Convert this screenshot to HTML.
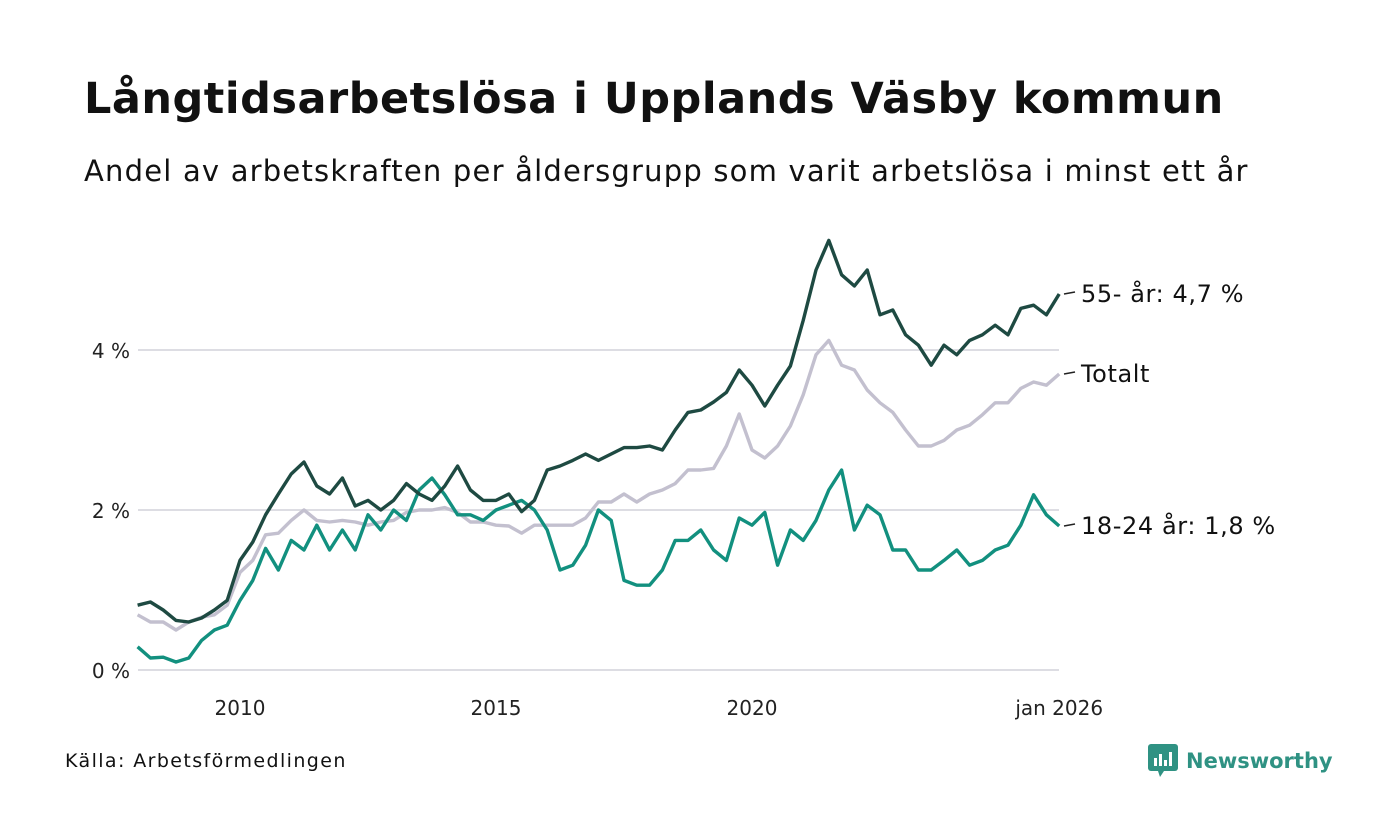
<!DOCTYPE html>
<html><head><meta charset="utf-8">
<style>
body{margin:0;width:1400px;height:840px;background:#fff;font-family:"DejaVu Sans","Liberation Sans",sans-serif;color:#111;overflow:hidden;position:relative}
#title{position:absolute;left:84px;top:74px;font-size:43px;font-weight:bold;letter-spacing:0.5px}
#sub{position:absolute;left:84px;top:154px;font-size:29px;letter-spacing:1.2px}
#src{position:absolute;left:65px;top:750px;font-size:19px;letter-spacing:1.4px}
#logo{position:absolute;left:1148px;top:744px;display:flex;align-items:center;gap:8px;color:#2f9283;font-weight:bold;font-size:21px}
svg{position:absolute;left:0;top:0}
</style></head><body>
<div id="title">Långtidsarbetslösa i Upplands Väsby kommun</div>
<div id="sub">Andel av arbetskraften per åldersgrupp som varit arbetslösa i minst ett år</div>
<div id="src">Källa: Arbetsförmedlingen</div>
<div id="logo"><svg style="position:static" width="30" height="34" viewBox="0 0 30 34"><rect x="0" y="0" width="30" height="27" rx="3" fill="#2f9283"/><polygon points="10,27 16,27 12,33" fill="#2f9283"/><rect x="6" y="14" width="3" height="8" fill="#fff"/><rect x="11" y="10" width="3" height="12" fill="#fff"/><rect x="16" y="16" width="3" height="6" fill="#fff"/><rect x="21" y="8" width="3" height="14" fill="#fff"/></svg><span>Newsworthy</span></div>
<svg id="chart" width="1400" height="840"></svg>
<script>
const years=[];for(let i=0;i<=72;i++)years.push(2008+i*0.25);
const older=[0.81,0.85,0.75,0.62,0.6,0.65,0.75,0.87,1.37,1.6,1.94,2.2,2.45,2.6,2.3,2.2,2.4,2.05,2.12,2.0,2.12,2.33,2.2,2.12,2.3,2.55,2.25,2.12,2.12,2.2,1.98,2.12,2.5,2.55,2.62,2.7,2.62,2.7,2.78,2.78,2.8,2.75,3.0,3.22,3.25,3.35,3.47,3.75,3.56,3.3,3.56,3.8,4.37,5.0,5.37,4.94,4.8,5.0,4.44,4.5,4.19,4.06,3.81,4.06,3.94,4.12,4.19,4.31,4.19,4.52,4.56,4.44,4.7];
const total=[0.69,0.6,0.6,0.5,0.6,0.66,0.69,0.81,1.22,1.37,1.69,1.71,1.87,2.0,1.87,1.85,1.87,1.85,1.81,1.85,1.87,1.97,2.0,2.0,2.03,1.97,1.85,1.85,1.81,1.8,1.71,1.81,1.81,1.81,1.81,1.9,2.1,2.1,2.2,2.1,2.2,2.25,2.33,2.5,2.5,2.52,2.8,3.2,2.75,2.65,2.8,3.05,3.44,3.94,4.12,3.81,3.75,3.5,3.34,3.22,3.0,2.8,2.8,2.87,3.0,3.06,3.19,3.34,3.34,3.52,3.6,3.56,3.7];
const youth=[0.29,0.15,0.16,0.1,0.15,0.37,0.5,0.56,0.87,1.12,1.52,1.25,1.62,1.5,1.81,1.5,1.75,1.5,1.94,1.75,2.0,1.87,2.25,2.4,2.19,1.94,1.94,1.87,2.0,2.06,2.12,2.0,1.75,1.25,1.31,1.56,2.0,1.87,1.12,1.06,1.06,1.25,1.62,1.62,1.75,1.5,1.37,1.9,1.81,1.97,1.31,1.75,1.62,1.87,2.25,2.5,1.75,2.06,1.94,1.5,1.5,1.25,1.25,1.37,1.5,1.31,1.37,1.5,1.56,1.81,2.19,1.94,1.8];
const yTicks=[0,2,4];
const xTicks=[2010,2015,2020,2026];
const xTickLabels=["2010","2015","2020","jan 2026"];
const NS="http://www.w3.org/2000/svg";
const svg=document.getElementById('chart');
const X=t=>240+(t-2010)*51.2;
const Y=v=>670-v*80;
function mk(tag,attrs){const e=document.createElementNS(NS,tag);for(const k in attrs)e.setAttribute(k,attrs[k]);svg.appendChild(e);return e;}
yTicks.forEach(v=>{
 const g=mk('line',{x1:138,x2:1059,y1:Y(v),y2:Y(v),stroke:'#dddde3','stroke-width':2});
 
 
 const t=mk('text',{x:130,y:Y(v)+8,'text-anchor':'end','font-size':20,fill:'#222','font-family':'DejaVu Sans, Liberation Sans, sans-serif'});
 t.textContent=v+' %';
 
 
});
xTicks.forEach((v,i)=>{
 const t=mk('text',{x:X(v),y:715,'text-anchor':'middle','font-size':20,fill:'#222','font-family':'DejaVu Sans, Liberation Sans, sans-serif'});
 t.textContent=xTickLabels[i];
 
 
});
function line(vals,color,name,label){
 const d=vals.map((v,i)=>(i?'L':'M')+X(years[i]).toFixed(1)+','+Y(v).toFixed(1)).join('');
 const p=mk('path',{d:d,fill:'none',stroke:color,'stroke-width':3.4,'stroke-linejoin':'round'});
 
 
 const lv=vals[vals.length-1],ly=Y(lv);
 const tk=mk('line',{x1:1064,x2:1075,y1:ly,y2:ly-2,stroke:'#222','stroke-width':1.5});
 
 
 const t=mk('text',{x:1081,y:ly+8,'font-size':24,fill:'#111','letter-spacing':'0.6','font-family':'DejaVu Sans, Liberation Sans, sans-serif'});
 t.textContent=label;
 
 
}
line(total,'#c3c0cf','line-total','Totalt');
line(youth,'#12907f','line-18-24','18-24 år: '+youth[youth.length-1].toFixed(1).replace('.',',')+' %');
line(older,'#1e4a42','line-55-plus','55- år: '+older[older.length-1].toFixed(1).replace('.',',')+' %');
</script>
</body></html>
